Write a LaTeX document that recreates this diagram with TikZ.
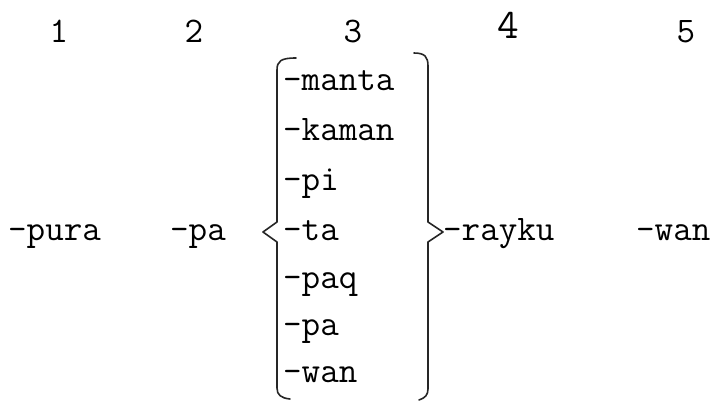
\documentclass[tikz,border=0pt]{standalone}
\begin{document}
\begin{tikzpicture}[x=1pt,y=-1pt,
  lbl/.style={anchor=base west,inner sep=0pt,font=\ttfamily\fontsize{36}{36}\selectfont},
  num/.style={anchor=base,inner sep=0pt,font=\ttfamily\fontsize{36}{36}\selectfont},
  brace/.style={draw=black!85,line width=1.6pt,line join=round,line cap=round}]
\useasboundingbox (0,0) rectangle (723,402);
% column numbers
\node[num] (n1) at (59,42) {1};
\node[num] (n2) at (194,42) {2};
\node[num] (n3) at (353,42) {3};
\node[num,font=\ttfamily\fontsize{42}{42}\selectfont] (n4) at (508,38) {4};
\node[num] (n5) at (686,42) {5};
% outer morphemes
\node[lbl] (pura) at (8,240) {-pura};
\node[lbl] (pa1) at (170,240) {-pa};
\node[lbl] (rayku) at (443,240) {-rayku};
\node[lbl] (wan1) at (636,240) {-wan};
% list
\node[lbl] (manta) at (283,90) {-manta};
\node[lbl] (kaman) at (283,140) {-kaman};
\node[lbl] (pi) at (283,190) {-pi};
\node[lbl] (ta) at (283,240) {-ta};
\node[lbl] (paq) at (283,288) {-paq};
\node[lbl] (pa2) at (283,335) {-pa};
\node[lbl] (wan2) at (283,382) {-wan};
% braces
\draw[brace] (296,58) .. controls (281,58) and (277,61) .. (277,70)
  -- (277,222) -- (263,232) -- (277,242) -- (277,388)
  .. controls (277,395) and (281,398) .. (290,399);
\draw[brace] (414,53) .. controls (425,53) and (428,57) .. (428,66)
  -- (428,222) -- (443,232) -- (428,242) -- (428,389)
  .. controls (428,395) and (425,398) .. (419,400);
\end{tikzpicture}
\end{document}
